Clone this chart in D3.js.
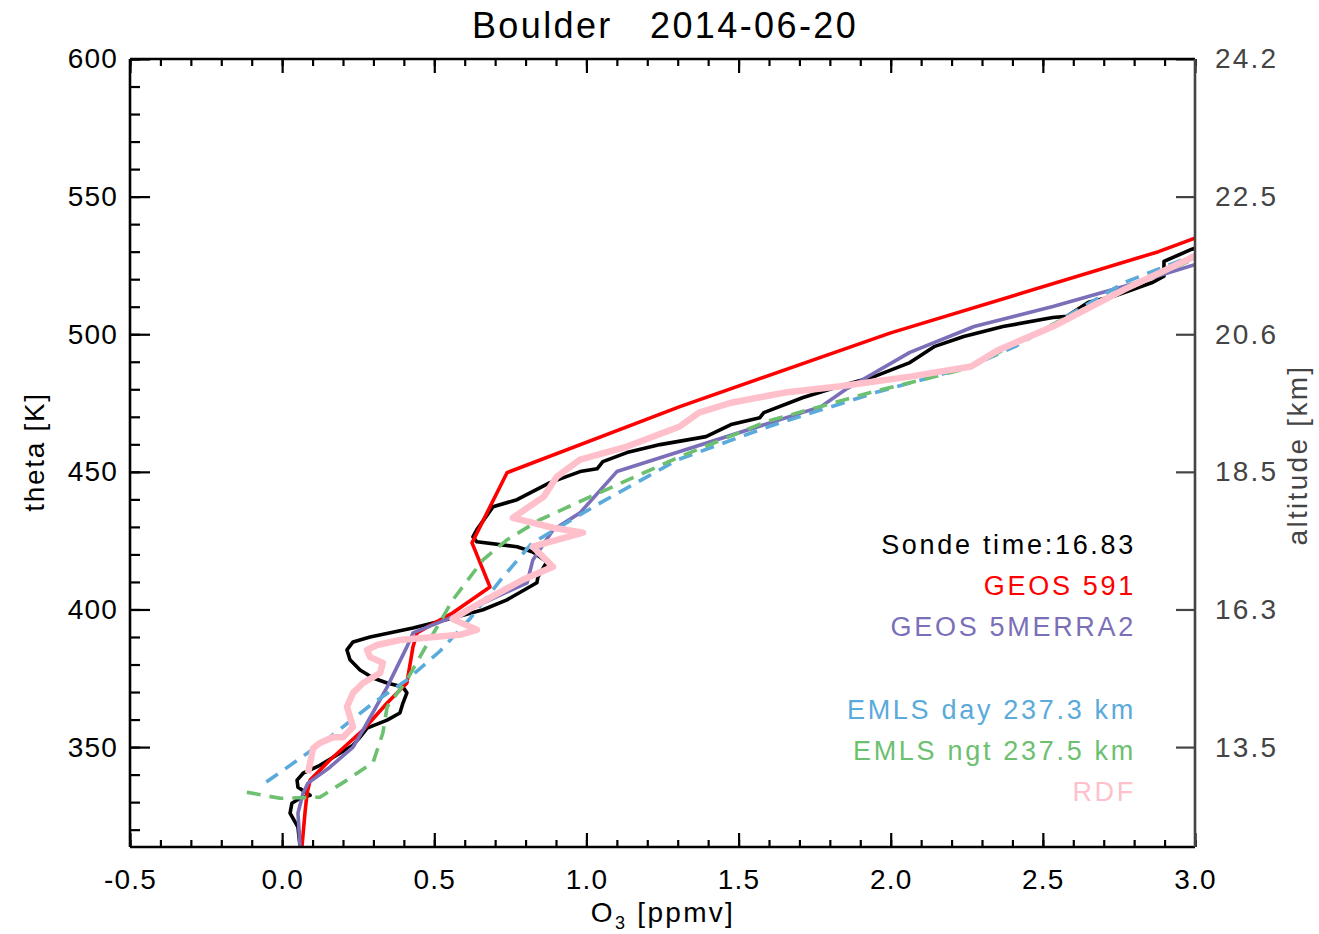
<!DOCTYPE html>
<html>
<head>
<meta charset="utf-8">
<script src="https://cdn.jsdelivr.net/npm/d3@7"></script>
<style>
  body { margin: 0; background: #fff; }
  svg text { font-family: "Liberation Sans", Arial, Helvetica, sans-serif; }
</style>
</head>
<body>
<div id="chart"></div>
<script>
// chart values
var titleText = "Boulder   2014-06-20";

var thetaMajor = [350, 400, 450, 500, 550, 600];
var altLabels = ["13.5", "16.3", "18.5", "20.6", "22.5", "24.2"];
var o3Major = [-0.5, 0.0, 0.5, 1.0, 1.5, 2.0, 2.5, 3.0];

var sondeO3 = [0.059, 0.052, 0.026, 0.032, 0.059, 0.092, 0.052, 0.049, 0.069, 0.124, 0.180, 0.233, 0.256, 0.279, 0.345, 0.387, 0.397, 0.410, 0.397, 0.345, 0.299, 0.256, 0.223, 0.213, 0.233, 0.289, 0.430, 0.561, 0.660, 0.739, 0.837, 0.841, 0.870, 0.824, 0.772, 0.640, 0.627, 0.640, 0.693, 0.772, 0.880, 0.979, 1.035, 1.054, 1.133, 1.242, 1.393, 1.475, 1.570, 1.583, 1.712, 1.829, 1.945, 2.063, 2.145, 2.240, 2.369, 2.533, 2.579, 2.650, 2.733, 2.862, 2.898, 2.898, 2.990, 3.050];
var sondeTheta = [313.7, 320.9, 326.0, 329.6, 331.4, 332.5, 335.4, 338.0, 340.5, 343.4, 347.1, 350.7, 353.6, 356.9, 359.8, 362.4, 366.0, 369.7, 371.8, 373.3, 375.1, 378.0, 381.7, 385.3, 388.2, 390.0, 393.3, 396.9, 399.9, 403.5, 409.7, 411.9, 417.3, 420.9, 422.8, 424.6, 426.4, 429.0, 437.3, 439.9, 446.1, 450.1, 451.1, 453.7, 457.0, 459.9, 462.8, 467.2, 469.7, 471.5, 477.0, 481.0, 484.6, 489.7, 495.6, 499.2, 502.8, 506.1, 506.5, 511.6, 513.8, 518.9, 521.1, 526.5, 530.9, 533.0];

var geos591O3 = [0.065, 0.075, 0.082, 0.092, 0.157, 0.266, 0.345, 0.410, 0.430, 0.443, 0.561, 0.683, 0.624, 0.739, 1.307, 2.000, 2.880, 3.050];
var geos591Theta = [313.7, 326.0, 333.3, 338.0, 345.3, 356.2, 366.0, 373.3, 386.4, 391.5, 398.8, 408.2, 424.2, 449.7, 473.7, 500.5, 530.0, 537.0];

var merra2O3 = [0.059, 0.052, 0.069, 0.085, 0.157, 0.233, 0.266, 0.345, 0.410, 0.430, 0.561, 0.683, 0.805, 0.824, 0.890, 0.979, 1.100, 1.307, 1.771, 1.853, 2.063, 2.274, 2.533, 2.768, 3.050];
var merra2Theta = [313.7, 326.0, 333.3, 336.9, 342.7, 350.0, 356.2, 371.8, 386.4, 391.5, 397.3, 403.5, 409.7, 418.0, 428.9, 435.1, 450.1, 457.4, 473.7, 480.0, 493.4, 502.8, 510.1, 517.4, 527.0];

var emlsDayO3 = [-0.052, 0.036, 0.157, 0.299, 0.410, 0.520, 0.620, 0.720, 0.820, 1.050, 1.300, 1.600, 1.950, 2.260, 2.410, 2.770, 3.050];
var emlsDayTheta = [337.3, 344.1, 353.6, 366.0, 374.4, 385.0, 397.0, 411.0, 424.0, 439.0, 454.4, 466.5, 478.8, 488.3, 495.6, 518.9, 531.0];

var emlsNgtO3 = [-0.116, -0.007, 0.124, 0.213, 0.299, 0.331, 0.345, 0.410, 0.490, 0.561, 0.660, 0.739, 0.847, 1.012, 1.307, 1.593, 1.945, 2.264, 2.415, 2.650, 3.050];
var emlsNgtTheta = [333.6, 331.4, 331.8, 338.0, 344.5, 355.1, 364.6, 374.4, 390.0, 403.5, 418.0, 425.3, 432.6, 440.9, 455.5, 468.3, 479.2, 487.9, 497.0, 510.1, 530.0];

var rdfO3 = [0.085, 0.102, 0.124, 0.167, 0.200, 0.233, 0.213, 0.233, 0.266, 0.322, 0.331, 0.289, 0.279, 0.312, 0.387, 0.584, 0.640, 0.560, 0.627, 0.791, 0.890, 0.824, 0.989, 0.890, 0.758, 0.860, 0.903, 0.979, 1.133, 1.307, 1.370, 1.475, 1.652, 1.829, 2.063, 2.264, 2.356, 2.533, 2.768, 3.050];
var rdfTheta = [340.5, 349.6, 351.5, 353.6, 353.6, 357.3, 364.6, 369.7, 373.3, 376.9, 380.6, 382.7, 385.3, 387.1, 388.9, 390.8, 392.6, 396.5, 400.9, 410.8, 415.5, 422.8, 427.9, 429.7, 433.3, 441.0, 448.3, 454.4, 459.2, 466.5, 471.5, 475.1, 478.8, 481.0, 484.6, 488.3, 494.4, 502.8, 516.3, 531.0];

var legendNames = ["Sonde time:16.83", "GEOS 591", "GEOS 5MERRA2", "", "EMLS day 237.3 km", "EMLS ngt 237.5 km", "RDF"];

var totalWidth = 1319, totalHeight = 934;
// note: "top" is taken by window.top, so use a prefix
var pLeft = 130, pRight = 1195, pTop = 59, pBottom = 847;

var svg = d3.select("#chart").append("svg")
    .attr("width", totalWidth)
    .attr("height", totalHeight);

var x = d3.scaleLinear().domain([-0.5, 3.0]).range([pLeft, pRight]);
var y = d3.scaleLinear().domain([313.7, 600]).range([pBottom, pTop]);

// plot lines, clipped to the frame
svg.append("defs").append("clipPath")
    .attr("id", "clip")
    .append("rect")
    .attr("x", pLeft).attr("y", pTop)
    .attr("width", pRight - pLeft).attr("height", pBottom - pTop);

var plot = svg.append("g").attr("clip-path", "url(#clip)");

var line = d3.line()
    .x(function(d) { return x(d[0]); })
    .y(function(d) { return y(d[1]); });

function zip(a, b) { return a.map(function(v, i) { return [v, b[i]]; }); }

var series = [
    {name: "sonde", data: zip(sondeO3, sondeTheta), color: "#000000", width: 3.6, dash: null},
    {name: "geos591", data: zip(geos591O3, geos591Theta), color: "#ff0000", width: 3.6, dash: null},
    {name: "merra2", data: zip(merra2O3, merra2Theta), color: "#7a6fb8", width: 3.6, dash: null},
    {name: "emlsday", data: zip(emlsDayO3, emlsDayTheta), color: "#5aaadb", width: 3.6, dash: "14,9"},
    {name: "emlsngt", data: zip(emlsNgtO3, emlsNgtTheta), color: "#6cc070", width: 3.6, dash: "14,9"},
    {name: "rdf", data: zip(rdfO3, rdfTheta), color: "#ffc0cb", width: 6.5, dash: null}
];

plot.selectAll(".series")
    .data(series)
    .enter().append("path")
    .attr("class", "series")
    .attr("d", function(d) { return line(d.data); })
    .attr("fill", "none")
    .attr("stroke", function(d) { return d.color; })
    .attr("stroke-width", function(d) { return d.width; })
    .attr("stroke-linejoin", "round")
    .attr("stroke-dasharray", function(d) { return d.dash; });

// axes: ticks point inward
var minorX = d3.range(-5, 31).map(function(i) { return i / 10; });
var minorY = d3.range(320, 601, 10);
var fmtX = function(d) { return d3.format(".1f")(d).replace("\u2212", "-"); };

function styleAxis(g, col, ls) {
    g.select(".domain").remove();
    g.selectAll("line").attr("stroke", col).attr("stroke-width", 2.2);
    g.selectAll("text").attr("fill", col).style("font-size", "28px").style("letter-spacing", ls || "1.2px");
}

// bottom
var gb = svg.append("g").attr("transform", "translate(0," + pBottom + ")");
gb.call(d3.axisBottom(x).tickValues(minorX).tickFormat("").tickSizeInner(-7).tickSizeOuter(0));
styleAxis(gb, "#000");
var gb2 = svg.append("g").attr("transform", "translate(0," + pBottom + ")");
gb2.call(d3.axisBottom(x).tickValues(o3Major).tickFormat(fmtX).tickSizeInner(-14).tickSizeOuter(0).tickPadding(22));
styleAxis(gb2, "#000");

// top
var gt = svg.append("g").attr("transform", "translate(0," + pTop + ")");
gt.call(d3.axisTop(x).tickValues(minorX).tickFormat("").tickSizeInner(-7).tickSizeOuter(0));
styleAxis(gt, "#000");
var gt2 = svg.append("g").attr("transform", "translate(0," + pTop + ")");
gt2.call(d3.axisTop(x).tickValues(o3Major).tickFormat("").tickSizeInner(-14).tickSizeOuter(0));
styleAxis(gt2, "#000");

// left
var gl = svg.append("g").attr("transform", "translate(" + pLeft + ",0)");
gl.call(d3.axisLeft(y).tickValues(minorY).tickFormat("").tickSizeInner(-10).tickSizeOuter(0));
styleAxis(gl, "#000");
var gl2 = svg.append("g").attr("transform", "translate(" + pLeft + ",0)");
gl2.call(d3.axisLeft(y).tickValues(thetaMajor).tickFormat(d3.format("d")).tickSizeInner(-20).tickSizeOuter(0).tickPadding(12));
styleAxis(gl2, "#000");

// right (altitude labels at the theta ticks)
var gr = svg.append("g").attr("transform", "translate(" + pRight + ",0)");
gr.call(d3.axisRight(y).tickValues(thetaMajor)
    .tickFormat(function(d, i) { return altLabels[i]; })
    .tickSizeInner(-19).tickSizeOuter(0).tickPadding(20));
styleAxis(gr, "#444", "2.2px");

// frame
svg.append("line").attr("x1", pLeft).attr("x2", pRight).attr("y1", pTop).attr("y2", pTop)
    .attr("stroke", "#000").attr("stroke-width", 2.6);
svg.append("line").attr("x1", pLeft).attr("x2", pRight).attr("y1", pBottom).attr("y2", pBottom)
    .attr("stroke", "#000").attr("stroke-width", 2.6);
svg.append("line").attr("x1", pLeft).attr("x2", pLeft).attr("y1", pTop).attr("y2", pBottom)
    .attr("stroke", "#000").attr("stroke-width", 2.6);
svg.append("line").attr("x1", pRight).attr("x2", pRight).attr("y1", pTop).attr("y2", pBottom)
    .attr("stroke", "#444").attr("stroke-width", 2.6);

// title and labels
svg.append("text")
    .attr("x", 665)
    .attr("y", 38)
    .style("text-anchor", "middle")
    .style("font-size", "36px")
    .style("letter-spacing", "2.4px")
    .style("white-space", "pre")
    .attr("xml:space", "preserve")
    .text(titleText);

var xl = svg.append("text")
    .attr("x", 663)
    .attr("y", 922)
    .style("text-anchor", "middle")
    .style("font-size", "28px")
    .style("letter-spacing", "2.3px");
xl.append("tspan").text("O");
xl.append("tspan").attr("dy", 7).style("font-size", "18px").text("3");
xl.append("tspan").attr("dy", -7).text(" [ppmv]");

svg.append("text")
    .attr("transform", "translate(44,452) rotate(-90)")
    .style("text-anchor", "middle")
    .style("font-size", "28px")
    .style("letter-spacing", "1.7px")
    .text("theta [K]");

svg.append("text")
    .attr("transform", "translate(1307,455) rotate(-90)")
    .style("text-anchor", "middle")
    .style("font-size", "28px")
    .style("letter-spacing", "2.3px")
    .attr("fill", "#444")
    .text("altitude [km]");

// legend, right aligned text in the series colours
var legendColors = ["#000000", "#ff0000", "#7a6fb8", "#fff", "#5aaadb", "#6cc070", "#ffc0cb"];
svg.selectAll(".legend")
    .data(legendNames)
    .enter().append("text")
    .attr("class", "legend")
    .attr("x", 1136)
    .attr("y", function(d, i) { return 554 + i * 41.2; })
    .style("text-anchor", "end")
    .style("font-size", "27px")
    .style("letter-spacing", "2.7px")
    .attr("fill", function(d, i) { return legendColors[i]; })
    .text(function(d) { return d; });
</script>
</body>
</html>
